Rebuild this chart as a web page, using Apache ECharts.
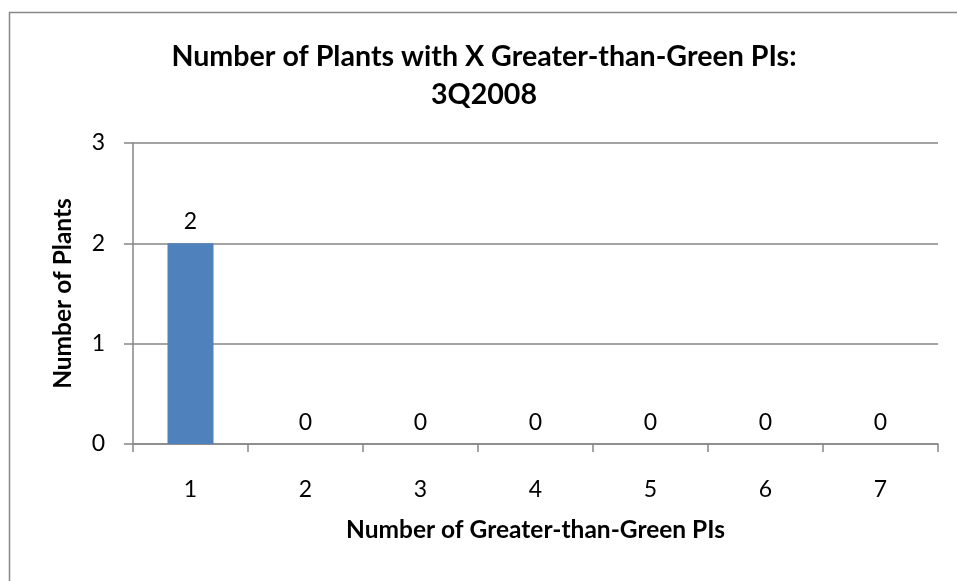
<!DOCTYPE html>
<html>
<head>
<meta charset="utf-8">
<script src="https://cdn.jsdelivr.net/npm/echarts@6/dist/echarts.min.js"></script>
<style>
  html, body { margin: 0; padding: 0; background: #fff; }
  #chart { width: 957px; height: 581px; }
</style>
</head>
<body>
<div id="chart"></div>
<script>
// Plants grouped by how many greater-than-green PIs they have
const categories = ['1', '2', '3', '4', '5', '6', '7'];
const plantCounts = [2, 0, 0, 0, 0, 0, 0];
const yTicks = [0, 1, 2, 3];

const FONT = 'Lato, "Open Sans", sans-serif';
const chart = echarts.init(document.getElementById('chart'));

chart.setOption({
  backgroundColor: '#ffffff',
  animation: false,
  title: {
    text: 'Number of Plants with X Greater-than-Green PIs:\n3Q2008',
    left: 479,
    textAlign: 'center',
    top: 33,
    textStyle: {
      fontFamily: FONT,
      fontSize: 28.6,
      fontWeight: 'bold',
      color: '#000',
      lineHeight: 38
    }
  },
  graphic: [{
    type: 'rect',
    shape: { x: 9.5, y: 12.5, width: 980, height: 620 },
    style: { fill: 'none', stroke: '#888888', lineWidth: 1.5 },
    silent: true
  }],
  grid: { left: 133, right: 19, top: 143, bottom: 137 },
  xAxis: {
    type: 'category',
    data: categories,
    name: 'Number of Greater-than-Green PIs',
    nameLocation: 'middle',
    nameGap: 74,
    nameTextStyle: { fontFamily: FONT, fontSize: 24.5, fontWeight: 'bold', color: '#000' },
    axisLine: { lineStyle: { color: '#868686', width: 1.5 } },
    axisTick: { show: true, length: 8, lineStyle: { color: '#868686', width: 1.5 } },
    axisLabel: { fontFamily: FONT, fontSize: 23, color: '#000', margin: 34 }
  },
  yAxis: {
    type: 'value',
    min: yTicks[0],
    max: yTicks[yTicks.length - 1],
    interval: 1,
    name: 'Number of Plants',
    nameLocation: 'middle',
    nameGap: 57,
    nameRotate: 90,
    nameTextStyle: { fontFamily: FONT, fontSize: 24.5, fontWeight: 'bold', color: '#000' },
    axisLine: { show: true, lineStyle: { color: '#868686', width: 1.5 } },
    axisTick: { show: true, length: 9, inside: false, lineStyle: { color: '#868686', width: 1.5 } },
    splitLine: { lineStyle: { color: '#868686', width: 1.5 } },
    axisLabel: { fontFamily: FONT, fontSize: 23, color: '#000', margin: 28 }
  },
  series: [{
    type: 'bar',
    data: plantCounts,
    barWidth: '40%',
    itemStyle: { color: '#4F81BD' },
    label: {
      show: true,
      position: 'top',
      distance: 10,
      fontFamily: FONT,
      fontSize: 23,
      color: '#000'
    }
  }]
});
</script>
</body>
</html>
